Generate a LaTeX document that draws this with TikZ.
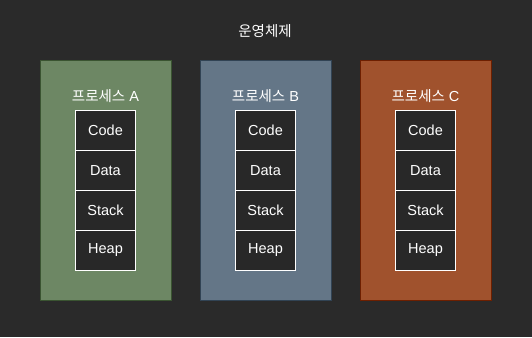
\documentclass[tikz,border=0pt]{standalone}
\usepackage{fontspec}
\setmainfont{Liberation Sans}
\newfontfamily\kr{Noto Sans CJK KR}
\definecolor{bg}{HTML}{2A2A2A}
\definecolor{cellbg}{HTML}{282828}
\definecolor{gfill}{HTML}{6D8764}
\definecolor{gline}{HTML}{3A5431}
\definecolor{bfill}{HTML}{647687}
\definecolor{bline}{HTML}{314354}
\definecolor{ofill}{HTML}{A0522D}
\definecolor{oline}{HTML}{6D1F00}
\begin{document}
\begin{tikzpicture}[x=1pt,y=-1pt,
  proc/.style={draw=#1, line width=1pt, minimum width=131pt, minimum height=240pt, inner sep=0pt, anchor=north west},
  cell/.style={draw=white, fill=cellbg, line width=0.8pt, minimum width=60pt, minimum height=40pt, inner sep=0pt, text=white, font=\fontsize{14.5}{16}\selectfont},
  lbl/.style={text=white, font=\fontsize{14.5}{16}\selectfont, inner sep=0pt}]
\fill[bg] (0,0) rectangle (532,337);
\useasboundingbox (0,0) rectangle (532,337);
\node[lbl] (title) at (265,31) {\kr 운영체제};
\foreach \n/\x/\f/\l/\c in {A/40/gfill/gline/A, B/200/bfill/bline/B, C/360/ofill/oline/C}{
  \node[proc=\l, fill=\f] (p\n) at (\x,60) {};
  \node[lbl] (t\n) at (\x+65.5,96) {{\kr 프로세스} \c};
  \node[cell] (code\n) at (\x+65.5,130.5) {Code};
  \node[cell] (data\n) at (\x+65.5,170.5) {Data};
  \node[cell] (stack\n) at (\x+65.5,210.5) {Stack};
  \node[cell] (heap\n) at (\x+65.5,250.5) {Heap};
}
\end{tikzpicture}
\end{document}
